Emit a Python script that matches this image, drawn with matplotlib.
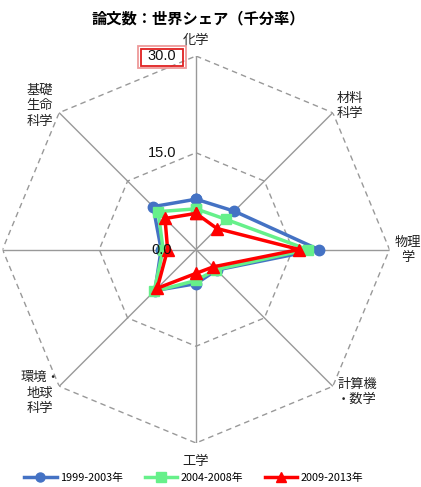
import numpy as np
import matplotlib
matplotlib.use("Agg")
import matplotlib.pyplot as plt
from matplotlib.lines import Line2D
from matplotlib.patches import Rectangle

plt.rcParams['font.family'] = ['Noto Sans CJK JP', 'DejaVu Sans']

categories = ["化学", "材料\n科学", "物理\n学", "計算機\n・数学", "工学", "環境・\n地球\n科学", "", "基礎\n生命\n科学"]
series_names = ["1999-2003年", "2004-2008年", "2009-2013年"]
s1999 = [7.8, 8.4, 19.0, 4.5, 5.3, 9.0, 5.4, 9.4]
s2004 = [6.3, 6.6, 17.3, 4.4, 4.8, 9.2, 5.1, 8.3]
s2009 = [5.6, 4.6, 16.0, 3.8, 3.7, 8.5, 4.4, 6.8]
ring_values = [0.0, 15.0, 30.0]
rmax = 30.0

colors = ["#4472C4", "#66F08A", "#FF0000"]
markers = ["o", "s", "^"]

W, H = 421, 487
fig = plt.figure(figsize=(W / 100, H / 100), dpi=100)
cx, cy, R = 196, 249.5, 193.5
ax = fig.add_axes([(cx - R) / W, (H - cy - R) / H, 2 * R / W, 2 * R / H], projection="polar")
ax.set_theta_zero_location("N")
ax.set_theta_direction(-1)
ax.set_ylim(0, rmax)
ax.grid(False)
ax.set_xticks([])
ax.set_yticks([])
ax.spines["polar"].set_visible(False)
ax.patch.set_alpha(0)

n = len(categories)
theta = np.arange(n) * 2 * np.pi / n
theta_c = np.append(theta, theta[0])

# spokes
for t in theta:
    ax.plot([t, t], [0, rmax], color="#999999", lw=1.0, zorder=1)
# rings
for rv in ring_values[1:]:
    ax.plot(theta_c, [rv] * (n + 1), color="#999999", lw=1.0, ls=(0, (4, 3)), zorder=1)

# ring labels
lab_x = 162 / W
for rv in ring_values:
    y_pix = cy - R * rv / rmax
    fig.text(lab_x, 1 - (y_pix + 0.5) / H, f"{rv:.1f}", ha="center", va="center", fontsize=10.5,
             color="#111111", family=["Liberation Sans", "DejaVu Sans"], zorder=2)

# highlighted frame around the top ring label
fig.patches.append(Rectangle((137.5 / W, 1 - 68 / H), 48.5 / W, 21.5 / H, transform=fig.transFigure,
                             fill=False, ec="#EE9A9A", lw=1.3))
fig.patches.append(Rectangle((140.5 / W, 1 - 65.5 / H), 42.5 / W, 16.5 / H, transform=fig.transFigure,
                             fill=False, ec="#E02020", lw=1.3))

# data
for vals, c, m, name in zip([s1999, s2004, s2009], colors, markers, series_names):
    v = np.append(vals, vals[0])
    ax.plot(theta_c, v, color=c, lw=2.5, marker=m, markersize=7.5 if m != "^" else 8,
            markeredgecolor=c, markerfacecolor=c, zorder=3, label=name, clip_on=False)

# category labels
label_pos = [(196, 40), (350, 106), (408, 250), (357, 392), (196, 461), (40, 393), (0, 250), (40, 106)]
for lab, (x, y) in zip(categories, label_pos):
    if lab:
        fig.text(x / W, 1 - y / H, lab, ha="center", va="center", fontsize=9.5, color="#222222",
                 linespacing=1.25)

fig.text(198 / W, 1 - 18 / H, "論文数：世界シェア（千分率）", ha="center", va="center",
         fontsize=11, fontweight="bold", color="black")

handles = [Line2D([0], [0], color=c, lw=2.5, marker=m, markersize=6.5) for c, m in zip(colors, markers)]
fig.legend(handles, series_names, loc="center", bbox_to_anchor=(0.46, 1 - 478 / H), ncol=3,
           frameon=False, fontsize=7.8, handlelength=3.0, columnspacing=2.0, handletextpad=0.3)

fig.savefig("out.png", dpi=100)
